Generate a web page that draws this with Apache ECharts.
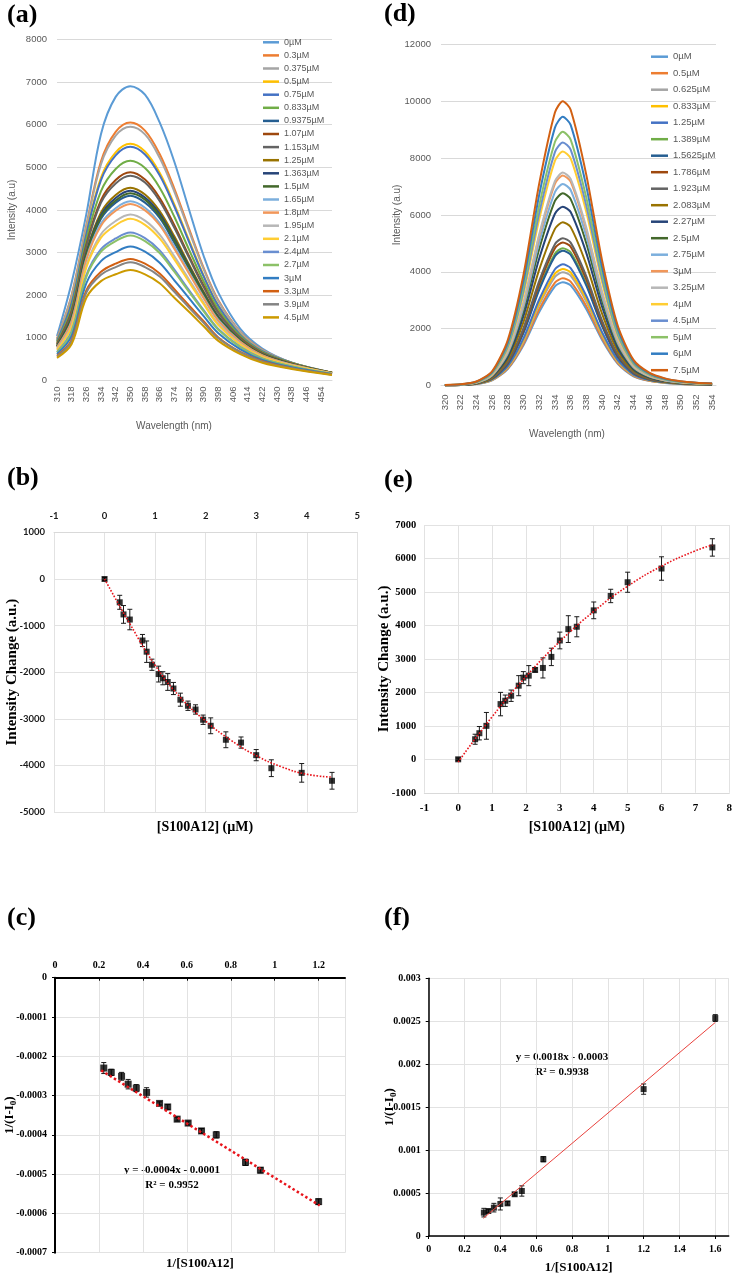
<!DOCTYPE html>
<html>
<head>
<meta charset="utf-8">
<script src="https://cdn.jsdelivr.net/npm/echarts@6/dist/echarts.min.js"></script>
<style>
html,body{margin:0;padding:0;background:#ffffff;width:733px;height:1274px;overflow:hidden;}
.pane{position:absolute;left:0;top:0;width:733px;height:1274px;}
</style>
</head>
<body>
<div id="pA" class="pane"></div>
<div id="pD" class="pane"></div>
<div id="pB" class="pane"></div>
<div id="pE" class="pane"></div>
<div id="pC" class="pane"></div>
<div id="pF" class="pane"></div>
<script>
// ================= DATA =================
// (a) emission spectra, S100A12 titration
const legendA = ['0µM','0.3µM','0.375µM','0.5µM','0.75µM','0.833µM','0.9375µM','1.07µM','1.153µM','1.25µM','1.363µM','1.5µM','1.65µM','1.8µM','1.95µM','2.1µM','2.4µM','2.7µM','3µM','3.3µM','3.9µM','4.5µM'];
const waveA = [310,318,326,334,342,350,358,366,374,382,390,398,410,422,438,460];
const intensityA = [
 [1040,2300,3900,5780,6650,6900,6700,6050,5130,4010,2920,2060,1210,750,420,172],
 [980,2010,3640,5140,5830,6050,5860,5310,4500,3560,2640,1880,1140,720,420,180],
 [970,1980,3600,5070,5740,5950,5770,5220,4430,3510,2610,1860,1130,710,420,180],
 [930,1850,3460,4760,5350,5550,5370,4870,4130,3290,2460,1760,1080,690,410,180],
 [930,1820,3430,4700,5280,5480,5300,4810,4080,3250,2440,1750,1070,690,420,180],
 [890,1710,3300,4440,4960,5150,4980,4520,3840,3070,2320,1670,1040,670,410,180],
 [790,1440,2920,3790,4170,4330,4170,3810,3230,2620,2000,1450,930,600,380,170],
 [860,1630,3180,4230,4700,4880,4710,4280,3640,2920,2220,1600,1000,650,400,180],
 [850,1600,3140,4170,4620,4800,4640,4210,3580,2880,2190,1580,990,640,390,180],
 [820,1510,3010,3940,4350,4520,4360,3970,3380,2720,2080,1500,950,620,380,180],
 [810,1480,2980,3880,4280,4450,4290,3910,3320,2680,2050,1490,940,610,380,170],
 [800,1460,2950,3840,4220,4390,4240,3860,3280,2650,2030,1470,940,610,380,175],
 [780,1400,2860,3680,4040,4200,4050,3690,3140,2540,1950,1420,910,590,370,170],
 [770,1380,2830,3630,3980,4140,3990,3640,3090,2510,1930,1400,900,590,370,170],
 [740,1300,2700,3430,3740,3890,3750,3420,2910,2370,1830,1330,860,560,360,165],
 [720,1260,2650,3350,3640,3790,3650,3330,2840,2310,1790,1300,840,550,350,165],
 [670,1160,2470,3080,3330,3470,3340,3050,2600,2120,1650,1210,790,520,330,155],
 [660,1130,2430,3020,3270,3400,3270,2990,2550,2080,1620,1190,780,510,330,155],
 [620,1045,2280,2800,3010,3140,3020,2760,2350,1930,1510,1110,730,480,310,150],
 [580,950,2110,2550,2740,2850,2740,2510,2140,1760,1390,1010,670,450,290,140],
 [560,920,2060,2480,2660,2770,2660,2440,2080,1710,1350,990,660,440,285,135],
 [530,855,1940,2330,2490,2590,2490,2280,1940,1610,1270,930,620,415,270,130]
];
// (d) emission spectra
const legendD = ['0µM','0.5µM','0.625µM','0.833µM','1.25µM','1.389µM','1.5625µM','1.786µM','1.923µM','2.083µM','2.27µM','2.5µM','2.75µM','3µM','3.25µM','4µM','4.5µM','5µM','6µM','7.5µM'];
const waveD = [320,322,324,326,328,330,332,334,335,336,338,340,342,344,346,348,350,352,354];
const intensityD = [
 [7,15,50,180,580,1415,2580,3485,3630,3520,2685,1600,760,325,165,90,55,36,25],
 [8,15,53,190,600,1470,2680,3620,3770,3655,2790,1660,790,340,170,95,57,38,26],
 [8,16,56,200,635,1550,2825,3820,3980,3860,2945,1750,835,360,180,100,60,40,28],
 [8,16,57,205,655,1600,2910,3935,4100,3975,3035,1805,860,370,185,103,62,41,29],
 [9,17,60,213,680,1660,3025,4090,4260,4130,3150,1875,895,385,192,107,64,43,30],
 [10,19,68,240,775,1885,3430,4635,4830,4685,3575,2125,1015,435,217,121,72,48,34],
 [9,19,66,237,760,1850,3365,4550,4740,4600,3510,2085,995,427,213,119,71,47,33],
 [10,20,70,250,805,1960,3570,4830,5030,4880,3720,2215,1055,453,226,126,75,50,35],
 [10,21,73,260,830,2020,3680,4970,5180,5025,3835,2280,1090,466,233,130,78,52,36],
 [11,23,80,287,920,2240,4075,5510,5740,5570,4250,2525,1205,517,258,144,86,57,40],
 [13,25,88,315,1005,2455,4465,6040,6290,6100,4655,2770,1320,566,283,157,94,63,44],
 [14,27,95,338,1080,2635,4800,6490,6760,6555,5000,2975,1420,608,304,169,101,68,47],
 [14,28,99,355,1135,2765,5035,6805,7090,6875,5245,3120,1490,638,319,177,106,71,50],
 [15,30,103,370,1180,2880,5245,7095,7390,7170,5470,3250,1550,665,333,185,111,74,52],
 [15,30,105,375,1200,2920,5320,7190,7490,7265,5545,3295,1575,674,337,187,112,75,52],
 [16,33,115,410,1315,3210,5845,7900,8230,7985,6090,3620,1730,740,370,206,123,82,58],
 [17,34,120,428,1370,3335,6070,8210,8550,8295,6325,3760,1795,770,385,214,128,86,60],
 [18,36,125,446,1425,3480,6335,8565,8920,8650,6600,3925,1875,803,401,223,134,89,62],
 [19,38,132,472,1510,3685,6710,9070,9450,9165,6995,4160,1985,850,425,236,142,95,66],
 [20,40,140,500,1600,3900,7100,9600,10000,9700,7400,4400,2100,900,450,250,150,100,70]
];
// (b) intensity change vs [S100A12]
const concB = [0,0.3,0.375,0.5,0.75,0.833,0.9375,1.07,1.153,1.25,1.363,1.5,1.65,1.8,1.95,2.1,2.4,2.7,3,3.3,3.9,4.5];
const changeB = [0,-500,-760,-870,-1320,-1560,-1840,-2040,-2130,-2210,-2350,-2590,-2720,-2800,-3020,-3150,-3450,-3510,-3780,-4060,-4160,-4330];
const errB = [30,150,190,220,130,230,120,170,140,180,130,140,100,100,100,170,170,120,120,180,200,180];
const fitXB = [0,0.5,1,1.5,2,2.5,3,3.5,4,4.5];
const fitYB = [0,-960,-1850,-2540,-3050,-3460,-3790,-4030,-4190,-4250];
// (e) intensity change vs [S100A12]
const concE = [0,0.5,0.625,0.833,1.25,1.389,1.5625,1.786,1.923,2.083,2.27,2.5,2.75,3,3.25,3.5,4,4.5,5,6,7.5];
const changeE = [0,600,780,1000,1650,1750,1900,2200,2440,2500,2670,2730,3060,3550,3890,3960,4450,4880,5290,5700,6330];
const errE = [40,150,200,400,350,170,170,300,180,300,60,300,260,250,400,300,250,200,300,350,260];
const fitXE = [0,1,2,3,4,5,6,7,7.5];
const fitYE = [-80,1270,2470,3520,4420,5170,5770,6230,6400];
// (c) double reciprocal
const invC = [0.222,0.256,0.303,0.333,0.370,0.417,0.476,0.513,0.556,0.606,0.667,0.734,0.867,0.935,1.2];
const recipC = [-0.000230,-0.000241,-0.000251,-0.000271,-0.000281,-0.000292,-0.000320,-0.000329,-0.000360,-0.000370,-0.000390,-0.000400,-0.000470,-0.000490,-0.000570];
const errC = [0.000014,0.000008,0.000010,0.000012,0.000009,0.000012,0.000004,0.000006,0.000005,0.000005,0.000006,0.000008,0.000008,0.000007,0.000007];
const fitXC = [0.21,1.205];
const fitYC = [-0.000236,-0.000580];
// (f) double reciprocal
const invF = [0.308,0.333,0.364,0.400,0.440,0.480,0.520,0.640,1.200,1.600];
const recipF = [0.000272,0.000291,0.000330,0.000373,0.000380,0.000486,0.000524,0.000894,0.001710,0.002537];
const errF = [0.00005,0.00002,0.00005,0.00007,0.00002,0.00002,0.00006,0.00003,0.00006,0.00004];
const fitXF = [0.305,1.6];
const fitYF = [0.000206,0.002486];

// ================= STYLE =================
const SANS = '"Liberation Sans", Arial, sans-serif';
const SERIF = '"Liberation Serif", "Times New Roman", serif';
const CALI = 'Lato, "Liberation Sans", sans-serif';
const GRIDC = '#d9d9d9';
const palette = ['#5B9BD5','#ED7D31','#A5A5A5','#FFC000','#4472C4','#70AD47','#255E91','#9E480E','#636363','#997300','#264478','#43682B','#7CAFDD','#F1975A','#B7B7B7','#FFCD33','#698ED0','#8CC168','#327DC2','#D26012','#848484','#CC9A00'];

const fmtInt = v => String(v);
const fmtSmall = v => String(+Number(v).toFixed(4));

function errorSeries(xs, ys, es, cap) {
  return {
    type: 'custom', silent: true, z: 3,
    data: xs.map((x, i) => [x, ys[i] - es[i], ys[i] + es[i]]),
    encode: { x: 0, y: [1, 2] },
    renderItem: (params, api) => {
      const x = api.value(0), lo = api.value(1), hi = api.value(2);
      const a = api.coord([x, hi]), b = api.coord([x, lo]);
      const st = { stroke: '#1a1a1a', lineWidth: 1 };
      return { type: 'group', children: [
        { type: 'line', shape: { x1: a[0], y1: a[1], x2: b[0], y2: b[1] }, style: st },
        { type: 'line', shape: { x1: a[0] - cap, y1: a[1], x2: a[0] + cap, y2: a[1] }, style: st },
        { type: 'line', shape: { x1: b[0] - cap, y1: b[1], x2: b[0] + cap, y2: b[1] }, style: st }
      ]};
    }
  };
}
function pointSeries(xs, ys, size) {
  return { type: 'scatter', symbol: 'rect', symbolSize: size, silent: true, z: 4,
    itemStyle: { color: '#000' }, data: xs.map((x, i) => [x, ys[i]]) };
}
function fitSeries(xs, ys, width, type, color, smooth) {
  return { type: 'line', symbol: 'none', showSymbol: false, silent: true, z: 5, smooth: smooth || false,
    lineStyle: { color: color, width: width, type: type }, data: xs.map((x, i) => [x, ys[i]]) };
}
function txt(text, x, y, size, family, weight, color, align) {
  return { type: 'text', x: x, y: y, silent: true,
    style: { text: text, fontSize: size, fontFamily: family, fontWeight: weight || 'normal',
      fill: color || '#000', align: align || 'center', verticalAlign: 'middle' } };
}
function panelLabel(t, x, y) { return txt(t, x, y, 26, SERIF, 'bold', '#000', 'left'); }

// ================= (a) =================
const catsA = [];
for (let w = 310; w <= 460; w++) catsA.push(String(w));
const chartA = echarts.init(document.getElementById('pA'), null, { renderer: 'canvas' });
chartA.setOption({
  animation: false,
  color: palette,
  grid: { left: 57, top: 39.3, width: 275, height: 341.2, outerBoundsMode: 'none' },
  legend: { orient: 'vertical', left: 263, top: 37.3, padding: 0, icon: 'rect', itemWidth: 16, itemHeight: 2.5,
    itemGap: 3.1, selectedMode: false, data: legendA,
    textStyle: { fontSize: 9, lineHeight: 10, color: '#595959', fontFamily: SANS } },
  xAxis: { type: 'category', data: catsA, boundaryGap: false,
    axisLine: { show: true, lineStyle: { color: GRIDC } }, axisTick: { show: false },
    axisLabel: { interval: 7, rotate: 90, margin: 6, color: '#595959', fontSize: 9.5, fontFamily: SANS },
    splitLine: { show: false } },
  yAxis: { type: 'value', min: 0, max: 8000, interval: 1000,
    axisLine: { show: false }, axisTick: { show: false },
    axisLabel: { color: '#595959', fontSize: 9.5, fontFamily: SANS, margin: 10, formatter: fmtInt },
    splitLine: { lineStyle: { color: GRIDC } },
    name: 'Intensity (a.u)', nameLocation: 'middle', nameGap: 40, nameMoveOverlap: false,
    nameTextStyle: { color: '#595959', fontSize: 10, fontFamily: SANS } },
  series: legendA.map((n, i) => ({
    name: n, type: 'line', showSymbol: false, symbol: 'none', smooth: 0.35, silent: true,
    lineStyle: { width: 2 },
    data: waveA.map((w, j) => [String(w), intensityA[i][j]])
  })),
  graphic: [
    panelLabel('(a)', 7, 15),
    txt('Wavelength (nm)', 174, 426, 10, SANS, 'normal', '#595959')
  ]
});

// ================= (d) =================
const catsD = [];
for (let w = 320; w <= 354; w++) catsD.push(String(w));
const chartD = echarts.init(document.getElementById('pD'));
chartD.setOption({
  animation: false,
  color: palette,
  grid: { left: 441, top: 44.3, width: 275, height: 341.2, outerBoundsMode: 'none' },
  legend: { orient: 'vertical', left: 651, top: 51.2, padding: 0, icon: 'rect', itemWidth: 17, itemHeight: 2.5,
    itemGap: 5.5, selectedMode: false, data: legendD,
    textStyle: { fontSize: 9.5, lineHeight: 11, color: '#595959', fontFamily: SANS } },
  xAxis: { type: 'category', data: catsD, boundaryGap: true,
    axisLine: { show: true, lineStyle: { color: GRIDC } }, axisTick: { show: false },
    axisLabel: { interval: 1, rotate: 90, margin: 9, color: '#595959', fontSize: 9.5, fontFamily: SANS },
    splitLine: { show: false } },
  yAxis: { type: 'value', min: 0, max: 12000, interval: 2000,
    axisLine: { show: false }, axisTick: { show: false },
    axisLabel: { color: '#595959', fontSize: 9.5, fontFamily: SANS, margin: 10, formatter: fmtInt },
    splitLine: { lineStyle: { color: GRIDC } },
    name: 'Intensity (a.u)', nameLocation: 'middle', nameGap: 39, nameMoveOverlap: false,
    nameTextStyle: { color: '#595959', fontSize: 10, fontFamily: SANS } },
  series: legendD.map((n, i) => ({
    name: n, type: 'line', showSymbol: false, symbol: 'none', smooth: 0.25, silent: true,
    lineStyle: { width: 2 },
    data: waveD.map((w, j) => [String(w), intensityD[i][j]])
  })),
  graphic: [
    panelLabel('(d)', 384, 14),
    txt('Wavelength (nm)', 567, 434, 10, SANS, 'normal', '#595959')
  ]
});

// ================= (b) =================
const chartB = echarts.init(document.getElementById('pB'));
chartB.setOption({
  animation: false,
  grid: { left: 54, top: 532.4, width: 303.3, height: 279.6, outerBoundsMode: 'none' },
  xAxis: { type: 'value', position: 'top', min: -1, max: 5, interval: 1,
    axisLine: { show: true, onZero: false, lineStyle: { color: GRIDC } }, axisTick: { show: false },
    splitLine: { show: true, lineStyle: { color: '#e2e2e2' } },
    axisLabel: { fontFamily: CALI, fontWeight: 'bold', fontSize: 9.5, color: '#1a1a1a', margin: 11, formatter: fmtInt } },
  yAxis: { type: 'value', min: -5000, max: 1000, interval: 1000,
    axisLine: { show: false }, axisTick: { show: false },
    splitLine: { show: true, lineStyle: { color: '#e2e2e2' } },
    axisLabel: { fontFamily: CALI, fontWeight: 'bold', fontSize: 9.5, color: '#1a1a1a', margin: 9, formatter: fmtInt },
    name: 'Intensity Change (a.u.)', nameLocation: 'middle', nameGap: 34, nameMoveOverlap: false,
    nameTextStyle: { fontFamily: SERIF, fontWeight: 'bold', fontSize: 15, color: '#000' } },
  series: [
    errorSeries(concB, changeB, errB, 2.5),
    pointSeries(concB, changeB, 6),
    fitSeries(fitXB, fitYB, 1.6, 'dotted', '#e8141b', true)
  ],
  graphic: [
    panelLabel('(b)', 7, 478),
    txt('[S100A12] (µM)', 205, 827, 14, SERIF, 'bold', '#000')
  ]
});

// ================= (e) =================
const chartE = echarts.init(document.getElementById('pE'));
chartE.setOption({
  animation: false,
  grid: { left: 424.3, top: 525, width: 305, height: 267.8, outerBoundsMode: 'none' },
  xAxis: { type: 'value', min: -1, max: 8, interval: 1,
    axisLine: { show: true, onZero: false, lineStyle: { color: GRIDC } }, axisTick: { show: false },
    splitLine: { show: true, lineStyle: { color: '#e2e2e2' } },
    axisLabel: { fontFamily: SERIF, fontWeight: 'bold', fontSize: 11, color: '#000', margin: 10, formatter: fmtInt },
    name: '[S100A12] (µM)', nameLocation: 'middle', nameGap: 28, nameMoveOverlap: false,
    nameTextStyle: { fontFamily: SERIF, fontWeight: 'bold', fontSize: 14, color: '#000' } },
  yAxis: { type: 'value', min: -1000, max: 7000, interval: 1000,
    axisLine: { show: false }, axisTick: { show: false },
    splitLine: { show: true, lineStyle: { color: '#e2e2e2' } },
    axisLabel: { fontFamily: SERIF, fontWeight: 'bold', fontSize: 10.5, color: '#000', margin: 8, formatter: fmtInt },
    name: 'Intensity Change (a.u.)', nameLocation: 'middle', nameGap: 33, nameMoveOverlap: false,
    nameTextStyle: { fontFamily: SERIF, fontWeight: 'bold', fontSize: 15, color: '#000' } },
  series: [
    errorSeries(concE, changeE, errE, 2.5),
    pointSeries(concE, changeE, 6),
    fitSeries(fitXE, fitYE, 1.6, 'dotted', '#e8141b', true)
  ],
  graphic: [ panelLabel('(e)', 384, 480) ]
});

// ================= (c) =================
const subRich = { s: { fontFamily: SERIF, fontWeight: 'bold', fontSize: 9, verticalAlign: 'bottom', lineHeight: 8 } };
const chartC = echarts.init(document.getElementById('pC'));
chartC.setOption({
  animation: false,
  grid: { left: 55, top: 977.7, width: 290, height: 275, outerBoundsMode: 'none' },
  xAxis: { type: 'value', position: 'top', min: 0, max: 1.32, interval: 0.2,
    axisLine: { show: true, onZero: false, lineStyle: { color: '#000', width: 2 } },
    axisTick: { show: true, inside: true, length: 3, lineStyle: { color: '#000' } },
    splitLine: { show: true, lineStyle: { color: '#e2e2e2' } },
    axisLabel: { fontFamily: SERIF, fontWeight: 'bold', fontSize: 10, color: '#000', margin: 7, showMaxLabel: false, formatter: fmtSmall } },
  yAxis: { type: 'value', min: -0.0007, max: 0, interval: 0.0001,
    axisLine: { show: true, onZero: false, lineStyle: { color: '#000', width: 2 } },
    axisTick: { show: true, length: 3, lineStyle: { color: '#000' } },
    splitLine: { show: true, lineStyle: { color: '#e2e2e2' } },
    axisLabel: { fontFamily: SERIF, fontWeight: 'bold', fontSize: 10, color: '#000', margin: 8, formatter: fmtSmall },
    name: '1/(I-I{s|0})', nameLocation: 'middle', nameGap: 37, nameMoveOverlap: false,
    nameTextStyle: { fontFamily: SERIF, fontWeight: 'bold', fontSize: 13, lineHeight: 16, color: '#000', rich: subRich } },
  series: [
    errorSeries(invC, recipC, errC, 2.5),
    pointSeries(invC, recipC, 7),
    fitSeries(fitXC, fitYC, 2.5, 'dotted', '#e8141b', false)
  ],
  graphic: [
    panelLabel('(c)', 7, 918),
    txt('1/[S100A12]', 200, 1264, 13, SERIF, 'bold', '#000'),
    txt('y = -0.0004x - 0.0001', 172, 1170, 11, SERIF, 'bold', '#000'),
    txt('R² = 0.9952', 172, 1185, 11, SERIF, 'bold', '#000')
  ]
});

// ================= (f) =================
const chartF = echarts.init(document.getElementById('pF'));
chartF.setOption({
  animation: false,
  grid: { left: 428.7, top: 978.3, width: 300, height: 257.7, outerBoundsMode: 'none' },
  xAxis: { type: 'value', min: 0, max: 1.675, interval: 0.2,
    axisLine: { show: true, onZero: false, lineStyle: { color: '#000', width: 1.5 } },
    axisTick: { show: true, length: 3, lineStyle: { color: '#000' } },
    splitLine: { show: true, lineStyle: { color: '#e2e2e2' } },
    axisLabel: { fontFamily: SERIF, fontWeight: 'bold', fontSize: 10, color: '#000', margin: 8, showMaxLabel: false, formatter: fmtSmall },
    name: '1/[S100A12]', nameLocation: 'middle', nameGap: 25, nameMoveOverlap: false,
    nameTextStyle: { fontFamily: SERIF, fontWeight: 'bold', fontSize: 13, color: '#000' } },
  yAxis: { type: 'value', min: 0, max: 0.003, interval: 0.0005,
    axisLine: { show: true, onZero: false, lineStyle: { color: '#000', width: 1.5 } },
    axisTick: { show: true, length: 3, lineStyle: { color: '#000' } },
    splitLine: { show: true, lineStyle: { color: '#e2e2e2' } },
    axisLabel: { fontFamily: SERIF, fontWeight: 'bold', fontSize: 10, color: '#000', margin: 8, formatter: fmtSmall },
    name: '1/(I-I{s|0})', nameLocation: 'middle', nameGap: 31, nameMoveOverlap: false,
    nameTextStyle: { fontFamily: SERIF, fontWeight: 'bold', fontSize: 13, lineHeight: 16, color: '#000', rich: subRich } },
  series: [
    errorSeries(invF, recipF, errF, 2.5),
    pointSeries(invF, recipF, 6),
    fitSeries(fitXF, fitYF, 1, 'solid', '#e8413c', false)
  ],
  graphic: [
    panelLabel('(f)', 384, 918),
    txt('y = 0.0018x - 0.0003', 562, 1057, 11, SERIF, 'bold', '#000'),
    txt('R² = 0.9938', 562, 1072, 11, SERIF, 'bold', '#000')
  ]
});
</script>
</body>
</html>
